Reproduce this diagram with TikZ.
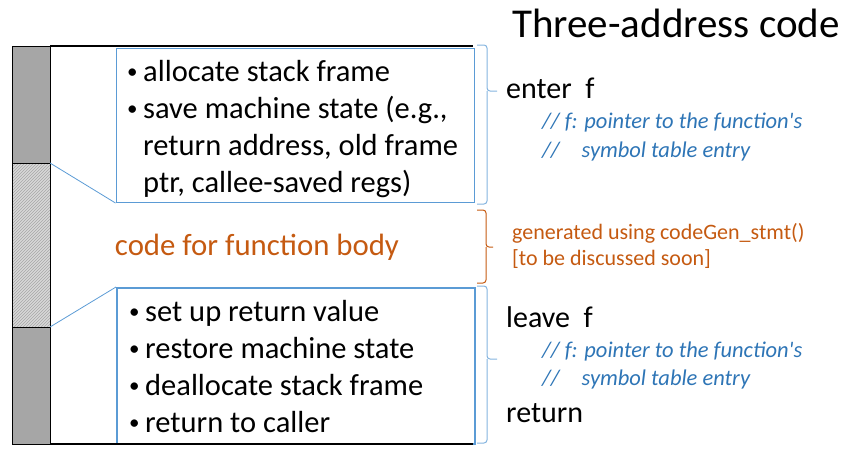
\documentclass[tikz,border=0pt]{standalone}
\usepackage{fontspec}
\setmainfont{Carlito}
\usetikzlibrary{positioning}
\usetikzlibrary{patterns}
\definecolor{boxblue}{RGB}{91,155,213}
\definecolor{cmtblue}{RGB}{46,117,182}
\definecolor{codeorange}{RGB}{197,90,17}
\definecolor{stackgray}{RGB}{166,166,166}
\newcommand{\itembul}{\makebox[16pt][l]{\fontsize{21}{21}\selectfont\raisebox{3pt}{\textbullet}}}
\tikzset{
    stackdark/.style = {draw=black, thick, fill=stackgray},
    stackhatch/.style = {draw=black, thick, preaction={fill=gray!30}, pattern color=gray!70, pattern=north east lines},
    infobox/.style = {draw=boxblue, line width=1.5pt, fill=white, inner sep=0pt, anchor=north west},
    framen/.style = {ultra thick, black},
    linkb/.style = {boxblue, line width=0.8pt},
    bracketb/.style = {boxblue!75, line width=1pt, rounded corners=3pt},
    brackett/.style = {codeorange, line width=1pt, rounded corners=3pt},
    itemtxt/.style = {anchor=base west, inner sep=0pt, font=\fontsize{30.5}{36}\selectfont},
    codetxt/.style = {anchor=base west, inner sep=0pt, font=\fontsize{30}{36}\selectfont},
    cmttxt/.style = {anchor=base west, inner sep=0pt, text=cmtblue, font=\fontsize{22.5}{27}\selectfont\itshape},
    gentxt/.style = {anchor=base west, inner sep=0pt, text=codeorange, font=\fontsize{22}{26}\selectfont}
}
\begin{document}
\begin{tikzpicture}[x=1pt,y=-1pt]
\useasboundingbox (0,0) rectangle (854,461);
%
% prologue and epilogue boxes
\node[infobox, minimum width=358pt, minimum height=154pt] at (115.5,47.5) (pro) {};
\node[infobox, minimum width=358pt, minimum height=156pt] at (116,287) (epi) {};
%
% stack of the frame
\draw[stackdark] (12,46) rectangle (50,163);
\draw[stackdark] (12,327) rectangle (50,444);
\draw[stackhatch] (12,163) rectangle (50,327);
\draw[framen] (50,46) -- (473,46);
\draw[framen] (50,444) -- (473,444);
\draw[linkb] (50,163) -- (pro.south west);
\draw[linkb] (50,327) -- (epi.north west);
%
\node[itemtxt] at (127,81) (p1) {\itembul allocate stack frame};
\node[itemtxt] at (127,118) (p2) {\itembul save machine state (e.g.,};
\node[itemtxt] at (143,155) (p3) {return address, old frame};
\node[itemtxt] at (143,192) (p4) {ptr, callee-saved regs)};
\node[itemtxt] at (129,321) (e1) {\itembul set up return value};
\node[itemtxt] at (129,358) (e2) {\itembul restore machine state};
\node[itemtxt] at (129,395) (e3) {\itembul deallocate stack frame};
\node[itemtxt] at (129,432) (e4) {\itembul return to caller};
%
\node[anchor=base, inner sep=0pt, text=codeorange, font=\fontsize{30.8}{36}\selectfont] at (257,255) (body) {code for function body};
%
% brackets
\draw[bracketb] (477,45) -- (487,45) -- (487,91) -- (497,91);
\draw[bracketb] (487,91) -- (487,204) -- (477,204);
\draw[brackett] (477,210) -- (486,210) -- (486,247) -- (493,247);
\draw[brackett] (486,247) -- (486,283) -- (477,283);
\draw[bracketb] (477,286) -- (487,286) -- (487,359) -- (497,359);
\draw[bracketb] (487,359) -- (487,443) -- (477,443);
%
% three-address code
\node[anchor=base west, inner sep=0pt, font=\fontsize{41}{48}\selectfont] at (512,37) (title) {Three-address code};
\node[codetxt] at (506,98) (enter) {enter\ \ f};
\node[cmttxt] at (542,128) (c1) {// f: pointer to the function\textquotesingle s};
\node[cmttxt] at (542,157) (c2) {//\hspace{22pt}symbol table entry};
\node[gentxt] at (512,239) (g1) {generated using codeGen\_stmt()};
\node[gentxt] at (512,265) (g2) {[to be discussed soon]};
\node[codetxt] at (506,327) (leave) {leave\ \ f};
\node[cmttxt] at (542,357) (c3) {// f: pointer to the function\textquotesingle s};
\node[cmttxt] at (542,385) (c4) {//\hspace{22pt}symbol table entry};
\node[codetxt] at (506,422) (ret) {return};
\end{tikzpicture}
\end{document}
